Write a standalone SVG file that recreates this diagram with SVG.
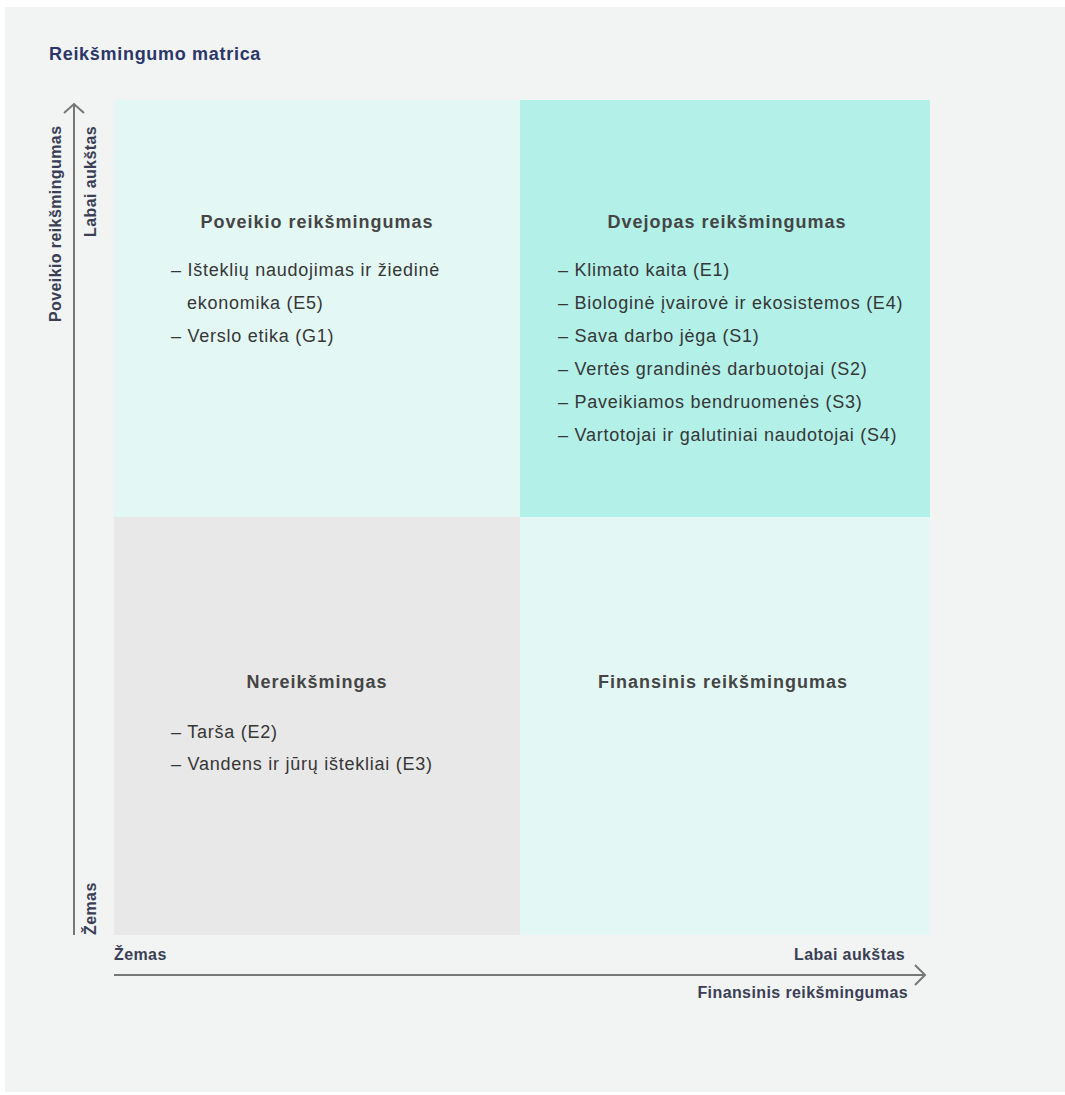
<svg xmlns="http://www.w3.org/2000/svg" width="1065" height="1095" viewBox="0 0 1065 1095">
<style>
.title{font-family:"Liberation Sans",Arial,sans-serif;font-weight:bold;font-size:18px;fill:#2b3768;letter-spacing:0.7px}
.ax{font-family:"Liberation Sans",Arial,sans-serif;font-weight:bold;font-size:16px;fill:#3a3f55;letter-spacing:0.4px}
.hd{font-family:"Liberation Sans",Arial,sans-serif;font-weight:bold;font-size:18px;fill:#454545;letter-spacing:1px}
.it{font-family:"Liberation Sans",Arial,sans-serif;font-size:18px;fill:#363636;letter-spacing:0.75px}
.axis{stroke:#777;stroke-width:2;fill:none}
</style>
<rect x="0" y="0" width="1065" height="1095" fill="#ffffff"/>
<rect x="5" y="7" width="1060" height="1085" fill="#f2f3f3"/>
<text class="title" x="49" y="60">Reikšmingumo matrica</text>
<g id="q-impact">
<rect x="114" y="100" width="406" height="417" fill="#e3f8f5"/>
<text class="hd" x="317" y="228" text-anchor="middle">Poveikio reikšmingumas</text>
<text class="it" x="171" y="276">– Išteklių naudojimas ir žiedinė</text>
<text class="it" x="187" y="309">ekonomika (E5)</text>
<text class="it" x="171" y="342">– Verslo etika (G1)</text>
</g>
<g id="q-double">
<rect x="520" y="100" width="410" height="417" fill="#b2f0e8"/>
<text class="hd" x="727" y="228" text-anchor="middle">Dvejopas reikšmingumas</text>
<text class="it" x="558" y="276">– Klimato kaita (E1)</text>
<text class="it" x="558" y="309">– Biologinė įvairovė ir ekosistemos (E4)</text>
<text class="it" x="558" y="342">– Sava darbo jėga (S1)</text>
<text class="it" x="558" y="375">– Vertės grandinės darbuotojai (S2)</text>
<text class="it" x="558" y="408">– Paveikiamos bendruomenės (S3)</text>
<text class="it" x="558" y="441">– Vartotojai ir galutiniai naudotojai (S4)</text>
</g>
<g id="q-none">
<rect x="114" y="517" width="406" height="418" fill="#e8e8e8"/>
<text class="hd" x="317" y="688" text-anchor="middle">Nereikšmingas</text>
<text class="it" x="171" y="738">– Tarša (E2)</text>
<text class="it" x="171" y="770">– Vandens ir jūrų ištekliai (E3)</text>
</g>
<g id="q-financial">
<rect x="520" y="517" width="410" height="418" fill="#e3f8f5"/>
<text class="hd" x="723" y="688" text-anchor="middle">Finansinis reikšmingumas</text>
</g>
<g id="axes">
<path class="axis" d="M74 935 V105 M64 113 L74 104 L84 113"/>
<path class="axis" d="M114 975 H924 M915 965 L925 975 L915 985"/>
</g>
<text class="ax" transform="translate(61 322) rotate(-90)">Poveikio reikšmingumas</text>
<text class="ax" transform="translate(96 237) rotate(-90)">Labai aukštas</text>
<text class="ax" transform="translate(96 935) rotate(-90)">Žemas</text>
<text class="ax" x="114" y="960">Žemas</text>
<text class="ax" x="905" y="960" text-anchor="end">Labai aukštas</text>
<text class="ax" x="908" y="998" text-anchor="end">Finansinis reikšmingumas</text>
</svg>
